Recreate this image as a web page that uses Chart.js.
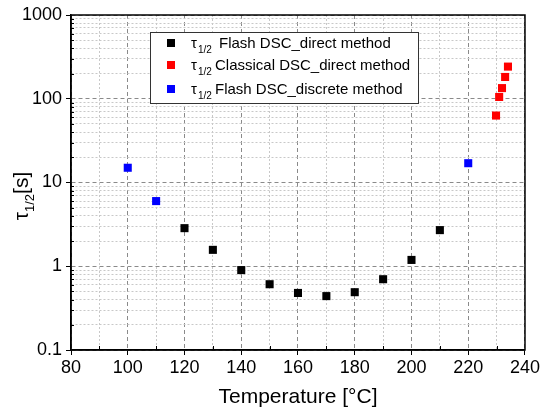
<!DOCTYPE html>
<html>
<head>
<meta charset="utf-8">
<script src="https://cdn.jsdelivr.net/npm/chart.js@4/dist/chart.umd.min.js"></script>
<style>
  html, body { margin: 0; padding: 0; background: #fff; }
  #wrap { width: 542px; height: 412px; }
</style>
</head>
<body>
<div id="wrap"><canvas id="myChart" width="542" height="412"></canvas></div>
<script>
// half-time of crystallization vs temperature
var flashDirectT = [120, 130, 140, 150, 160, 170, 180, 190, 200, 210];
var flashDirectTau = [2.85, 1.57, 0.90, 0.61, 0.48, 0.44, 0.49, 0.70, 1.19, 2.7];

var classicalT = [229.8, 230.9, 231.9, 233.0, 234.0];
var classicalTau = [63, 105, 134, 182, 242];

var discreteT = [100, 110, 220];
var discreteTau = [15, 6.0, 17];

var legendNames = ['Flash DSC_direct method', 'Classical DSC_direct method', 'Flash DSC_discrete method'];
var seriesColors = ['#000000', '#ff0000', '#0000ff'];

var yDecades = [0.1, 1, 10, 100, 1000];
var xTicks = [80, 90, 100, 110, 120, 130, 140, 150, 160, 170, 180, 190, 200, 210, 220, 230, 240];

var FONT = '"Liberation Sans", Arial, sans-serif';

function toPoints(xs, ys) {
  return xs.map((x, i) => ({ x: x, y: ys[i] }));
}

function isDecade(v) {
  return yDecades.some((d) => Math.abs(d - v) < 1e-9);
}

function isMajorX(v) {
  return v % 20 === 0;
}

// y ticks: every decade plus 2..9 inside each decade
var yTicks = [];
yDecades.forEach((d, i) => {
  yTicks.push(d);
  if (i < yDecades.length - 1) {
    for (var k = 2; k <= 9; k++) yTicks.push(+(d * k).toPrecision(3));
  }
});

// legend box, titles, frame and inner minor ticks
var extras = {
  id: 'extras',
  afterDraw(chart) {
    var ctx = chart.ctx;
    var a = chart.chartArea;
    var xs = chart.scales.x, ys = chart.scales.y;
    ctx.save();

    // frame
    ctx.strokeStyle = '#000';
    ctx.lineWidth = 1.5;
    ctx.strokeRect(a.left, a.top, a.right - a.left, a.bottom - a.top);

    // minor ticks pointing inward
    ctx.lineWidth = 1;
    ctx.beginPath();
    yTicks.forEach((v) => {
      if (isDecade(v)) return;
      var py = Math.round(ys.getPixelForValue(v)) + 0.5;
      ctx.moveTo(a.left, py); ctx.lineTo(a.left + 3, py);
    });
    xTicks.forEach((v) => {
      if (isMajorX(v)) return;
      var px = Math.round(xs.getPixelForValue(v)) + 0.5;
      ctx.moveTo(px, a.bottom); ctx.lineTo(px, a.bottom - 4);
    });
    ctx.stroke();

    // x title
    ctx.fillStyle = '#000';
    ctx.font = '21px ' + FONT;
    ctx.textAlign = 'center';
    ctx.textBaseline = 'alphabetic';
    ctx.fillText('Temperature [°C]', (a.left + a.right) / 2, 403);

    // y title, rotated
    ctx.save();
    ctx.translate(28, 196);
    ctx.rotate(-Math.PI / 2);
    ctx.textAlign = 'left';
    ctx.font = '21px ' + FONT;
    var w1 = ctx.measureText('τ').width;
    ctx.font = '13px ' + FONT;
    var w2 = ctx.measureText('1/2').width;
    ctx.font = '21px ' + FONT;
    var w3 = ctx.measureText('[s]').width;
    var sx = -(w1 + w2 + w3) / 2;
    ctx.font = '21px ' + FONT;
    ctx.fillText('τ', sx, 0);
    ctx.font = '13px ' + FONT;
    ctx.fillText('1/2', sx + w1, 6);
    ctx.font = '21px ' + FONT;
    ctx.fillText('[s]', sx + w1 + w2, 0);
    ctx.restore();

    // legend
    var lx = 150.5, ly = 32.5, lw = 268, lh = 71;
    ctx.fillStyle = '#fff';
    ctx.fillRect(lx, ly, lw, lh);
    ctx.strokeStyle = '#333';
    ctx.lineWidth = 1;
    ctx.strokeRect(lx, ly, lw, lh);
    var rows = [43, 65, 89];
    var textX = [219, 215, 215];
    legendNames.forEach((name, i) => {
      var cy = rows[i];
      ctx.fillStyle = seriesColors[i];
      ctx.fillRect(167, cy - 4, 8, 8);
      ctx.fillStyle = '#000';
      ctx.textAlign = 'left';
      ctx.textBaseline = 'alphabetic';
      ctx.font = '15px ' + FONT;
      ctx.fillText('τ', 191, cy + 5);
      ctx.font = '10px ' + FONT;
      ctx.fillText('1/2', 198, cy + 10);
      ctx.font = '15px ' + FONT;
      ctx.fillText(name, textX[i], cy + 5);
    });

    ctx.restore();
  }
};

function makeSet(label, xs, ys, color) {
  return {
    label: label,
    data: toPoints(xs, ys),
    showLine: false,
    pointStyle: 'rect',
    pointRadius: 5.7,
    pointHoverRadius: 5.7,
    backgroundColor: color,
    borderColor: color,
    borderWidth: 0
  };
}

var ctx = document.getElementById('myChart').getContext('2d');
var chartjs = new Chart(ctx, {
  type: 'scatter',
  data: {
    datasets: [
      makeSet(legendNames[0], flashDirectT, flashDirectTau, seriesColors[0]),
      makeSet(legendNames[1], classicalT, classicalTau, seriesColors[1]),
      makeSet(legendNames[2], discreteT, discreteTau, seriesColors[2])
    ]
  },
  options: {
    responsive: false,
    animation: false,
    layout: { padding: { top: 15, right: 16, left: 0, bottom: 0 } },
    plugins: {
      legend: { display: false },
      tooltip: { enabled: false }
    },
    scales: {
      x: {
        type: 'linear',
        min: 80,
        max: 240,
        afterBuildTicks: (scale) => { scale.ticks = xTicks.map((v) => ({ value: v })); },
        afterFit: (scale) => { scale.height = 62; },
        ticks: {
          autoSkip: false,
          maxRotation: 0,
          padding: 2,
          color: '#000',
          font: { family: FONT, size: 18 },
          callback: (v) => isMajorX(v) ? String(v) : ''
        },
        grid: {
          color: (c) => isMajorX(c.tick.value) ? '#8a8a8a' : '#c8c8c8',
          lineWidth: 1,
          tickLength: 5,
          tickColor: (c) => isMajorX(c.tick.value) ? '#000' : 'rgba(0,0,0,0)'
        },
        border: {
          color: '#000',
          width: 1.5,
          dash: (c) => isMajorX(c.tick.value) ? [4, 3] : [2, 2]
        }
      },
      y: {
        type: 'logarithmic',
        min: 0.1,
        max: 1000,
        afterBuildTicks: (scale) => { scale.ticks = yTicks.map((v) => ({ value: v })); },
        afterFit: (scale) => { scale.width = 71; },
        ticks: {
          autoSkip: false,
          padding: 4,
          color: '#000',
          font: { family: FONT, size: 18 },
          callback: (v) => isDecade(v) ? String(v) : ''
        },
        grid: {
          color: (c) => isDecade(c.tick.value) ? '#8a8a8a' : '#c8c8c8',
          lineWidth: 1,
          tickLength: 5,
          tickColor: (c) => isDecade(c.tick.value) ? '#000' : 'rgba(0,0,0,0)'
        },
        border: {
          color: '#000',
          width: 1.5,
          dash: (c) => isDecade(c.tick.value) ? [4, 3] : [2, 2]
        }
      }
    }
  },
  plugins: [extras]
});
</script>
</body>
</html>
